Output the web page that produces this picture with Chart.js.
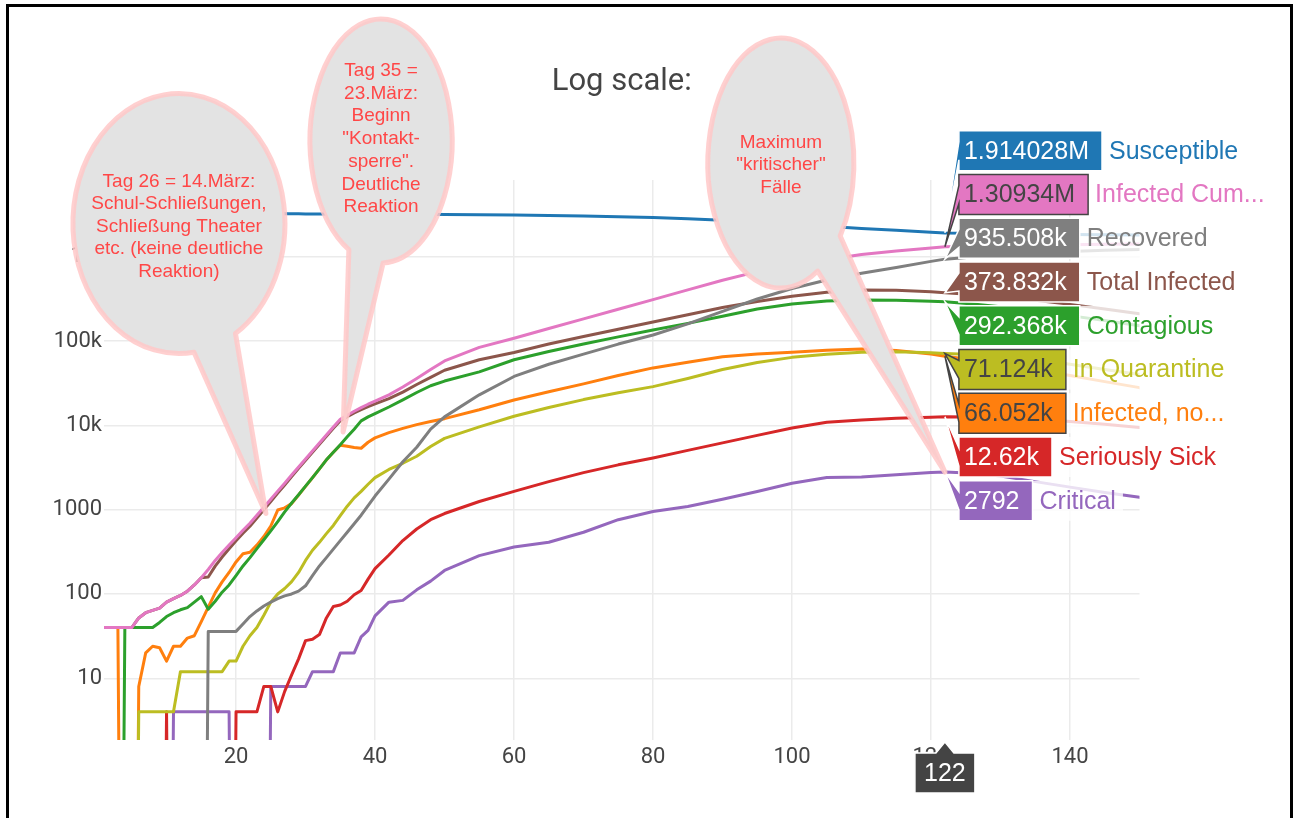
<!DOCTYPE html>
<html>
<head>
<meta charset="utf-8">
<title>Log scale</title>
<script src="https://cdn.jsdelivr.net/npm/chart.js@4.4.1/dist/chart.umd.min.js"></script>
<style>
  html, body { margin: 0; padding: 0; background: #fff; overflow: hidden; }
  #myChart { position: absolute; left: 0; top: 0; }
  #frame { position: absolute; left: 6px; top: 4px; width: 1281px; height: 900px; border: 3px solid #000; pointer-events: none; }
</style>
</head>
<body>
<canvas id="myChart" width="1297" height="818"></canvas>
<div id="frame"></div>
<script>
// day of the simulation
const days = [
  1, 2, 3, 4, 5, 6, 7, 8, 9, 10,
  11, 12, 13, 14, 15, 16, 17, 18, 19, 20,
  21, 22, 23, 24, 25, 26, 27, 28, 29, 30,
  31, 32, 33, 34, 35, 36, 37, 38, 39, 40,
  42, 44, 46, 48, 50, 55, 60, 65, 70, 75,
  80, 85, 90, 95, 100, 105, 110, 115, 120, 122,
  126, 130, 135, 140, 145, 150
];

const susceptible = [
  3223000, 3223000, 3223000, 3223000, 3223000, 3223000, 3223000, 3223000, 3223000, 3223000,
  3223000, 3223000, 3223000, 3223000, 3223000, 3223000, 3223000, 3223000, 3223000, 3223000,
  3223000, 3223000, 3223000, 3223000, 3222000, 3221000, 3221000, 3220000, 3220000, 3219000,
  3218000, 3217000, 3215000, 3214000, 3211000, 3210000, 3208000, 3207000, 3205000, 3204000,
  3200000, 3195000, 3187000, 3177000, 3165000, 3139000, 3115000, 3080000, 3040000, 2985000,
  2915000, 2820000, 2700000, 2560000, 2440000, 2300000, 2160000, 2055000, 1950000, 1914028,
  1893000, 1873000, 1853000, 1833000, 1823000, 1813000
];
const infectedCum = [
  40, 40, 40, 40, 40, 52, 60, 64, 68, 80,
  88, 96, 108, 128, 156, 195, 250, 310, 380, 465,
  570, 690, 860, 1070, 1330, 1660, 2060, 2570, 3200, 3980,
  4950, 6170, 7680, 9560, 11800, 13200, 14700, 16200, 17800, 19400,
  23000, 28500, 36000, 46000, 58000, 84000, 108000, 141000, 183000, 238000,
  310000, 404000, 525000, 665000, 780000, 920000, 1060000, 1170000, 1270000, 1309340,
  1330000, 1350000, 1370000, 1390000, 1400000, 1410000
];
const recovered = [
  0, 0, 0, 0, 0, 0, 0, 0, 0, 0,
  0, 0, 0, 0, 0, 36, 36, 36, 36, 36,
  44, 54, 63, 72, 80, 88, 95, 100, 108, 125,
  165, 215, 270, 340, 430, 540, 680, 860, 1120, 1450,
  2300, 3700, 5500, 9000, 12600, 23000, 38000, 53000, 70000, 92000,
  118000, 160000, 225000, 315000, 420000, 530000, 635000, 745000, 880000, 935508,
  990000, 1040000, 1100000, 1150000, 1190000, 1220000
];
const totalInfected = [
  40, 40, 40, 40, 40, 52, 60, 64, 68, 80,
  88, 96, 108, 128, 156, 159, 214, 274, 344, 429,
  526, 636, 797, 998, 1250, 1572, 1965, 2470, 3092, 3855,
  4785, 5955, 7410, 9220, 11370, 12660, 14020, 15340, 16680, 17950,
  20700, 24800, 30500, 37000, 45000, 60000, 73000, 92000, 113000, 138000,
  168000, 205000, 250000, 295000, 340000, 378000, 402000, 400000, 385000, 373832,
  355000, 335000, 305000, 272000, 240000, 210000
];
const contagious = [
  0, 0, 0, 40, 40, 40, 40, 40, 46, 54,
  60, 65, 69, 80, 93, 66, 82, 105, 128, 165,
  215, 270, 345, 440, 560, 720, 940, 1200, 1500, 1900,
  2400, 3050, 3900, 4800, 5900, 7300, 9000, 11300, 12600, 13800,
  16500, 20000, 24500, 29500, 33500, 43000, 60000, 75000, 92000, 112000,
  135000, 162000, 197000, 240000, 275000, 298000, 307000, 305000, 297000, 292368,
  275000, 255000, 228000, 200000, 175000, 152000
];
const quarantine = [
  0, 0, 0, 0, 0, 4, 4, 4, 4, 4,
  4, 12, 12, 12, 12, 12, 12, 12, 16, 16,
  24, 32, 40, 56, 80, 100, 116, 140, 180, 250,
  330, 410, 520, 650, 850, 1100, 1380, 1650, 2000, 2400,
  3000, 3550, 4300, 5600, 7000, 9600, 12800, 16300, 20200, 24300,
  28800, 36000, 46000, 55500, 64000, 69500, 73500, 74500, 72500, 71124,
  69000, 66000, 60000, 53000, 46000, 40000
];
const infectedNotContagious = [
  40, 40, 40, 0, 0, 8, 20, 24, 23, 16,
  24, 24, 30, 32, 47, 70, 103, 139, 180, 240,
  300, 312, 380, 480, 640, 990, 1050, 1180, 1490, 1890,
  2390, 3040, 3890, 4790, 5800, 5650, 5450, 5350, 6300, 7100,
  8200, 9200, 10200, 11100, 12000, 15300, 20000, 25000, 31000, 39000,
  48000, 56000, 65000, 70000, 73500, 77500, 80500, 77000, 70000, 66052,
  60000, 54000, 46000, 39000, 33000, 28000
];
const seriouslySick = [
  0, 0, 0, 0, 0, 0, 0, 0, 0, 4,
  0, 0, 0, 0, 0, 0, 0, 0, 0, 4,
  4, 4, 4, 8, 8, 4, 7, 11, 17, 28,
  29, 33, 52, 71, 74, 82, 98, 110, 150, 200,
  290, 430, 590, 760, 900, 1250, 1650, 2150, 2750, 3400,
  4100, 5050, 6200, 7600, 9300, 10900, 11600, 12100, 12500, 12620,
  12600, 12400, 11900, 11100, 10300, 9400
];
const critical = [
  0, 0, 0, 0, 0, 0, 0, 0, 0, 0,
  4, 4, 4, 4, 4, 4, 4, 4, 4, 0,
  0, 0, 0, 0, 8, 8, 8, 8, 8, 8,
  12, 12, 12, 12, 20, 20, 20, 31, 37, 55,
  80, 84, 112, 142, 190, 285, 360, 410, 540, 760,
  950, 1090, 1330, 1640, 2060, 2400, 2440, 2600, 2750, 2792,
  2700, 2500, 2150, 1850, 1600, 1400
];

const seriesNames = ['Susceptible', 'Infected Cum...', 'Recovered', 'Total Infected', 'Contagious',
  'In Quarantine', 'Infected, no...', 'Seriously Sick', 'Critical'];
const seriesColors = ['#1f77b4', '#e377c2', '#7f7f7f', '#8c564b', '#2ca02c',
  '#bcbd22', '#ff7f0e', '#d62728', '#9467bd'];

const xTicks = [20, 40, 60, 80, 100, 120, 140];
const yTicks = [10, 100, 1000, 10000, 100000, 1000000];
const yTickLabels = ['10', '100', '1000', '10k', '100k', '1M'];

const titleText = 'Log scale:';
const hoverDay = 122;

const note1 = ['Tag 26 = 14.März:', 'Schul-Schließungen,', 'Schließung Theater', 'etc. (keine deutliche', 'Reaktion)'];
const note2 = ['Tag 35 =', '23.März:', 'Beginn', '"Kontakt-', 'sperre".', 'Deutliche', 'Reaktion'];
const note3 = ['Maximum', '"kritischer"', 'Fälle'];

const allSeries = [susceptible, infectedCum, recovered, totalInfected, contagious,
  quarantine, infectedNotContagious, seriouslySick, critical];

const Y_MIN = 1.855;
const Y_MAX = 8.12e6;

// speech bubbles: tail tip sits on a data point, the balloon is offset from it in pixels
const notes = [
  { lines: note1, day: 24.3, value: 900, dx: -87, dy: -290, rx: 106, ry: 130, spread: 0.21, textDy: 3, lead: 22.5 },
  { lines: note2, day: 35.4, value: 8350, dx: 38, dy: -291, rx: 71, ry: 122, spread: 0.25, textDy: -2, lead: 22.7 },
  { lines: note3, day: hoverDay, value: critical[days.indexOf(hoverDay)], dx: -164, dy: -309, rx: 73, ry: 125, spread: 0.21, textDy: 2, lead: 22.5 }
];

// a log axis has no zero, so zeros are sent far below the floor and drop straight down
const belowFloor = v => (v > 0 ? v : 1e-9);

function formatValue(v) {
  if (v >= 1e6) return (v / 1e6) + 'M';
  if (v >= 1e4) return (v / 1e3) + 'k';
  return String(v);
}

function brightness(hex) {
  const r = parseInt(hex.slice(1, 3), 16);
  const g = parseInt(hex.slice(3, 5), 16);
  const b = parseInt(hex.slice(5, 7), 16);
  return (r * 299 + g * 587 + b * 114) / 1000;
}

const labelFont = '25px "Liberation Sans", Arial, sans-serif';

const overlay = {
  id: 'overlay',
  afterDraw(chart) {
    const { ctx, chartArea: area } = chart;
    const xs = chart.scales.x, ys = chart.scales.y;
    ctx.save();

    // title
    ctx.font = '31px Roboto';
    ctx.fillStyle = '#444';
    ctx.textAlign = 'center';
    ctx.textBaseline = 'alphabetic';
    ctx.fillText(titleText, (area.left + area.right) / 2, 90);

    // hover labels for every series at hoverDay
    const hi = days.indexOf(hoverDay);
    const xp = xs.getPixelForValue(hoverDay);
    const items = allSeries.map((vals, k) => ({ k, v: vals[hi], yp: ys.getPixelForValue(vals[hi]) }));
    items.sort((a, b) => a.yp - b.yp);
    const mid = items.reduce((t, it) => t + it.yp, 0) / items.length;

    ctx.font = labelFont;
    ctx.textAlign = 'left';
    ctx.textBaseline = 'middle';
    items.forEach((it, i) => {
      const cy = mid + (i - (items.length - 1) / 2) * 43.75;
      const color = seriesColors[it.k];
      const light = brightness(color) >= 128;
      const txt = formatValue(it.v);
      const left = xp + 14;
      const w = ctx.measureText(txt).width + 18;
      const top = cy - 20, bot = cy + 20;

      const name = seriesNames[it.k];
      const nw = ctx.measureText(name).width;
      ctx.fillStyle = 'rgba(255,255,255,0.8)';
      ctx.fillRect(left + w, top, nw + 14, 40);
      ctx.fillStyle = color;
      ctx.fillText(name, left + w + 7, cy + 1);

      ctx.beginPath();
      ctx.moveTo(xp, it.yp);
      ctx.lineTo(left, cy - 9);
      ctx.lineTo(left, top);
      ctx.lineTo(left + w, top);
      ctx.lineTo(left + w, bot);
      ctx.lineTo(left, bot);
      ctx.lineTo(left, cy + 9);
      ctx.closePath();
      ctx.fillStyle = color;
      ctx.fill();
      ctx.lineWidth = 1.5;
      ctx.strokeStyle = light ? '#444' : '#fff';
      ctx.stroke();
      ctx.fillStyle = light ? '#444' : '#fff';
      ctx.fillText(txt, left + 5, cy + 1);
    });

    // x hover label
    const hb = area.bottom;
    ctx.beginPath();
    ctx.moveTo(xp, hb + 2);
    ctx.lineTo(xp + 9, hb + 13);
    ctx.lineTo(xp + 30, hb + 13);
    ctx.lineTo(xp + 30, hb + 53);
    ctx.lineTo(xp - 30, hb + 53);
    ctx.lineTo(xp - 30, hb + 13);
    ctx.lineTo(xp - 9, hb + 13);
    ctx.closePath();
    ctx.fillStyle = '#444';
    ctx.fill();
    ctx.strokeStyle = '#fff';
    ctx.lineWidth = 1.5;
    ctx.stroke();
    ctx.fillStyle = '#fff';
    ctx.textAlign = 'center';
    ctx.fillText(String(hoverDay), xp, hb + 34);

    // speech bubbles
    notes.forEach(n => {
      const tx = xs.getPixelForValue(n.day), ty = ys.getPixelForValue(n.value);
      const cx = tx + n.dx, cy = ty + n.dy;
      const t0 = Math.atan2((ty - cy) / n.ry, (tx - cx) / n.rx);
      ctx.beginPath();
      ctx.moveTo(tx, ty);
      ctx.lineTo(cx + n.rx * Math.cos(t0 + n.spread), cy + n.ry * Math.sin(t0 + n.spread));
      ctx.ellipse(cx, cy, n.rx, n.ry, 0, t0 + n.spread, t0 - n.spread + Math.PI * 2);
      ctx.closePath();
      ctx.fillStyle = '#e3e3e3';
      ctx.fill();
      ctx.lineWidth = 5;
      ctx.lineJoin = 'round';
      ctx.strokeStyle = 'rgba(255,200,200,0.85)';
      ctx.stroke();

      ctx.font = '19px "Liberation Sans", Arial, sans-serif';
      ctx.fillStyle = '#ff4747';
      ctx.textAlign = 'center';
      ctx.textBaseline = 'middle';
      n.lines.forEach((line, i) => {
        ctx.fillText(line, cx, cy + n.textDy + (i - (n.lines.length - 1) / 2) * n.lead);
      });
    });

    ctx.restore();
  }
};

const datasets = allSeries.map((vals, i) => ({
  label: seriesNames[i],
  data: days.map((d, j) => ({ x: d, y: belowFloor(vals[j]) })),
  borderColor: seriesColors[i],
  backgroundColor: seriesColors[i],
  borderWidth: 3,
  pointRadius: 0,
  fill: false,
  tension: 0,
  borderJoinStyle: 'round',
  borderCapStyle: 'round'
}));

const tickFont = { family: 'Roboto', size: 22 };

const chart = new Chart('myChart', {
  type: 'line',
  data: { datasets: datasets },
  options: {
    responsive: false,
    animation: false,
    devicePixelRatio: 1,
    layout: { padding: { left: 0, top: 180, right: 157.5, bottom: 0 } },
    plugins: {
      legend: { display: false },
      tooltip: { enabled: false },
      title: { display: false }
    },
    scales: {
      x: {
        type: 'linear',
        min: 1,
        max: 150,
        afterBuildTicks: s => { s.ticks = xTicks.map(v => ({ value: v })); },
        afterFit: s => { s.height = 78; },
        grid: { color: '#ebebeb', lineWidth: 1.5, drawTicks: false },
        border: { display: false },
        ticks: { font: tickFont, color: '#444', padding: 4, maxRotation: 0, autoSkip: false, callback: v => String(v) }
      },
      y: {
        type: 'logarithmic',
        min: Y_MIN,
        max: Y_MAX,
        afterBuildTicks: s => { s.ticks = yTicks.map(v => ({ value: v })); },
        afterFit: s => { s.width = 104; },
        grid: { color: '#ebebeb', lineWidth: 1.5, drawTicks: false },
        border: { display: false },
        ticks: { font: tickFont, color: '#444', padding: 2, autoSkip: false, callback: (v, i) => yTickLabels[i] }
      }
    }
  },
  plugins: [overlay]
});
</script>
</body>
</html>
